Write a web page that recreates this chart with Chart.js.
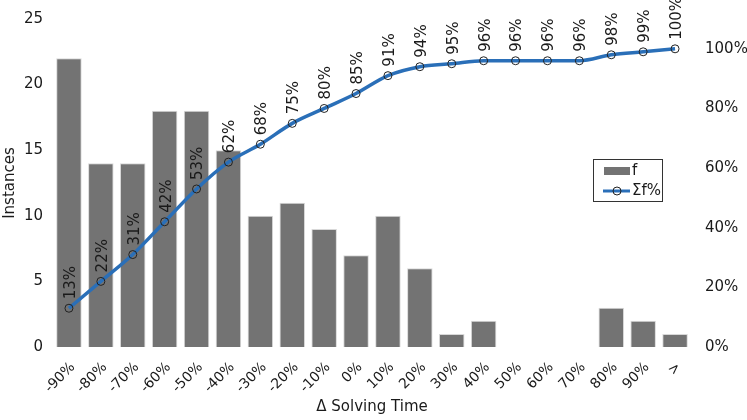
<!DOCTYPE html>
<html>
<head>
<meta charset="utf-8">
<script src="https://cdn.jsdelivr.net/npm/chart.js@4.4.1/dist/chart.umd.min.js"></script>
<style>
  html, body { margin: 0; padding: 0; background: #fff; }
  #wrap { width: 747px; height: 420px; }
</style>
</head>
<body>
<div id="wrap"><canvas id="c" width="747" height="420"></canvas></div>
<script>
// ── Data ───────────────────────────────────────────────────────────────────────
const categories = ['-90%', '-80%', '-70%', '-60%', '-50%', '-40%', '-30%', '-20%', '-10%', '0%',
                    '10%', '20%', '30%', '40%', '50%', '60%', '70%', '80%', '90%', '>'];
const freq       = [22, 14, 14, 18, 18, 15, 10, 11, 9, 7, 10, 6, 1, 2, 0, 0, 0, 3, 2, 1];
const cumPct     = [13, 22, 31, 42, 53, 62, 68, 75, 80, 85, 91, 94, 95, 96, 96, 96, 96, 98, 99, 100];
const pctTicks   = [0, 20, 40, 60, 80, 100];

const FONT    = 'DejaVu Sans';
const INK     = '#1a1a1a';
const BAR     = '#737373';
const LINE    = '#2a6fb8';

// Rotated percentage labels above every point of the cumulative line.
const pointLabels = {
  id: 'pointLabels',
  afterDatasetsDraw(chart) {
    const meta = chart.getDatasetMeta(1);
    const ctx = chart.ctx;
    ctx.save();
    ctx.font = `15px "${FONT}"`;
    ctx.fillStyle = INK;
    ctx.textAlign = 'left';
    ctx.textBaseline = 'middle';
    meta.data.forEach((pt, i) => {
      ctx.save();
      ctx.translate(pt.x + 2, pt.y - 9);
      ctx.rotate(-Math.PI / 2);
      ctx.fillText(cumPct[i] + '%', 0, 0);
      ctx.restore();
    });
    ctx.restore();
  }
};

// Small framed legend inside the plot.
const boxLegend = {
  id: 'boxLegend',
  afterDraw(chart) {
    const ctx = chart.ctx;
    const x = 593, y = 159, w = 69, h = 42;
    ctx.save();
    ctx.fillStyle = '#fff';
    ctx.fillRect(x, y, w, h);
    ctx.strokeStyle = '#333';
    ctx.lineWidth = 1;
    ctx.strokeRect(x + 0.5, y + 0.5, w, h);
    ctx.fillStyle = BAR;
    ctx.fillRect(x + 11, y + 8, 26, 8);
    ctx.strokeStyle = LINE;
    ctx.lineWidth = 3;
    ctx.beginPath();
    ctx.moveTo(x + 10, y + 32);
    ctx.lineTo(x + 37, y + 32);
    ctx.stroke();
    ctx.beginPath();
    ctx.arc(x + 24, y + 32, 4, 0, Math.PI * 2);
    ctx.strokeStyle = '#222';
    ctx.lineWidth = 1;
    ctx.stroke();
    ctx.fillStyle = INK;
    ctx.font = `15px "${FONT}"`;
    ctx.textBaseline = 'middle';
    ctx.fillText('f', x + 39, y + 12);
    ctx.fillText('Σf%', x + 39, y + 32);
    ctx.restore();
  }
};

new Chart(document.getElementById('c').getContext('2d'), {
  data: {
    labels: categories,
    datasets: [
      {
        type: 'bar', label: 'f', data: freq, yAxisID: 'y',
        backgroundColor: BAR, borderColor: '#d8d8d8', borderWidth: 1,
        barPercentage: 0.8, categoryPercentage: 1.0, order: 2
      },
      {
        type: 'line', label: 'Σf%', data: cumPct, yAxisID: 'y1',
        borderColor: LINE, borderWidth: 3.5, tension: 0.35, cubicInterpolationMode: 'monotone',
        pointRadius: 4, pointBorderColor: '#222', pointBorderWidth: 1,
        pointBackgroundColor: 'rgba(0,0,0,0)', fill: false, order: 1
      }
    ]
  },
  options: {
    responsive: false,
    animation: false,
    layout: { padding: { top: 19, left: 0, right: 0, bottom: 0 } },
    plugins: { legend: { display: false }, tooltip: { enabled: false } },
    scales: {
      x: {
        grid: { display: false }, border: { display: false },
        ticks: { color: INK, font: { family: FONT, size: 14 }, minRotation: 45, maxRotation: 45,
                 padding: 4, labelOffset: 4 },
        title: { display: true, text: 'Δ Solving Time', color: INK, font: { family: FONT, size: 15 }, padding: { top: 0, bottom: 4 } },
        afterFit: s => { s.height = 73; }
      },
      y: {
        position: 'left', min: 0, max: 25,
        grid: { display: false }, border: { display: false },
        ticks: { stepSize: 5, color: INK, font: { family: FONT, size: 15 }, padding: 2 },
        title: { display: true, text: 'Instances', color: INK, font: { family: FONT, size: 15 }, padding: 1 },
        afterFit: s => { s.width = 53; }
      },
      y1: {
        position: 'right', min: 0, max: 110,
        grid: { display: false }, border: { display: false },
        afterBuildTicks: s => { s.ticks = pctTicks.map(v => ({ value: v })); },
        ticks: { color: INK, font: { family: FONT, size: 15 }, padding: 6, callback: v => v + '%' },
        afterFit: s => { s.width = 56; }
      }
    }
  },
  plugins: [pointLabels, boxLegend]
});
</script>
</body>
</html>
